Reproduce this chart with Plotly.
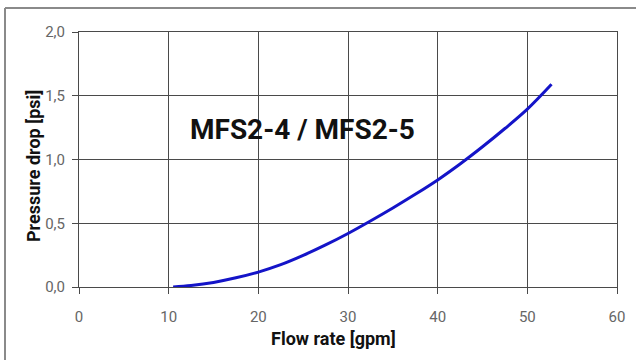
import plotly.graph_objects as go

flow_gpm = [10.5, 12.5, 15, 17.5, 20, 22.5, 25, 27.5, 30, 32.5, 35, 37.5, 40, 42.5, 45, 47.5, 50, 52.7]
pressure_psi = [0.0, 0.012, 0.036, 0.072, 0.117, 0.175, 0.248, 0.33, 0.42, 0.518, 0.62, 0.727, 0.84, 0.965, 1.1, 1.243, 1.395, 1.59]

x_ticks = [0, 10, 20, 30, 40, 50, 60]
y_ticks = [0.0, 0.5, 1.0, 1.5, 2.0]
y_tick_labels = ["0,0", "0,5", "1,0", "1,5", "2,0"]

chart_label = "MFS2-4 / MFS2-5"
x_title = "Flow rate [gpm]"
y_title = "Pressure drop [psi]"

FONT = "Roboto"
GRID = "#4a4a4a"

fig = go.Figure()
fig.add_trace(go.Scatter(
    x=flow_gpm, y=pressure_psi, mode="lines",
    line=dict(color="#1414c8", width=3, shape="spline", smoothing=1.0),
    showlegend=False, hoverinfo="skip",
))

fig.update_layout(
    width=636, height=360,
    margin=dict(l=79, r=19, t=32, b=73),
    paper_bgcolor="white", plot_bgcolor="white",
    font=dict(family=FONT, color="#666666", size=14),
    xaxis=dict(
        range=[0, 60], tickvals=x_ticks, ticktext=[str(v) for v in x_ticks],
        showgrid=True, gridcolor=GRID, gridwidth=1,
        showline=True, linecolor=GRID, linewidth=1, mirror=True,
        ticks="outside", ticklen=6, tickcolor=GRID, zeroline=False,
        tickfont=dict(family=FONT, size=15, color="#666666"),
        ticklabelstandoff=10,
    ),
    yaxis=dict(
        range=[0, 2.0], tickvals=y_ticks, ticktext=y_tick_labels,
        showgrid=True, gridcolor=GRID, gridwidth=1,
        showline=True, linecolor=GRID, linewidth=1, mirror=True,
        ticks="outside", ticklen=6, tickcolor=GRID, zeroline=False,
        tickfont=dict(family=FONT, size=15, color="#666666"),
        ticklabelstandoff=4,
    ),
    annotations=[
        dict(text=f"<b>{chart_label}</b>", xref="paper", yref="paper",
             x=(302 - 79) / 538, y=(287 - 129) / 255, showarrow=False,
             xanchor="center", yanchor="middle",
             font=dict(family=FONT, size=28, color="#111111")),
        dict(text=f"<b>{x_title}</b>", xref="paper", yref="paper",
             x=(333 - 79) / 538, y=(287 - 338) / 255, showarrow=False,
             xanchor="center", yanchor="middle",
             font=dict(family=FONT, size=18, color="#111111")),
        dict(text=f"<b>{y_title}</b>", xref="paper", yref="paper",
             x=(33 - 79) / 538, y=(287 - 166) / 255, showarrow=False,
             xanchor="center", yanchor="middle", textangle=-90,
             font=dict(family=FONT, size=18, color="#111111")),
    ],
    shapes=[
        dict(type="line", xref="paper", yref="paper",
             x0=(5 - 79) / 538, x1=(640 - 79) / 538,
             y0=(287 - 8) / 255, y1=(287 - 8) / 255,
             line=dict(color="#8a8a8a", width=2)),
        dict(type="line", xref="paper", yref="paper",
             x0=(5 - 79) / 538, x1=(5 - 79) / 538,
             y0=(287 - 8) / 255, y1=(287 - 365) / 255,
             line=dict(color="#8a8a8a", width=2)),
    ],
)

fig.write_html(
    "out.html",
    config={"displayModeBar": False},
    post_script="document.body.style.margin='0';document.body.style.overflow='hidden';",
)
